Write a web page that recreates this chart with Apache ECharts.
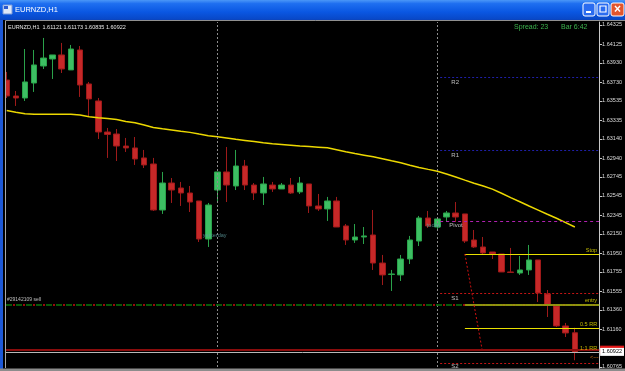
<!DOCTYPE html>
<html><head><meta charset="utf-8">
<script src="https://cdn.jsdelivr.net/npm/echarts@6/dist/echarts.min.js"></script>
<style>html,body{margin:0;padding:0;background:#000;overflow:hidden}#c{width:625px;height:371px}</style>
</head><body><div id="c"></div>
<script>
// ---------- data ----------
const symbolName = 'EURNZD,H1';
const headerValues = ['1.61121', '1.61173', '1.60835', '1.60922'];
const opens = [1.63752,1.63586,1.63565,1.63721,1.63898,1.63971,1.64013,1.63857,1.64065,1.63711,
1.63534,1.63211,1.63190,1.63065,1.63045,1.62941,1.62878,1.62399,1.62680,1.62628,
1.62576,1.62493,1.62097,1.62607,1.62795,1.62649,1.62857,1.62659,1.62576,1.62659,
1.62618,1.62659,1.62587,1.62670,1.62441,1.62410,1.62493,1.62233,1.62087,1.62118,
1.62139,1.61847,1.61728,1.61723,1.61889,1.62076,1.62316,1.62222,1.62326,1.62368,
1.62358,1.62087,1.62014,1.61962,1.61941,1.61754,1.61743,1.61775,1.61879,1.61525,
1.61400,1.61192,1.61121];
const closes = [1.63586,1.63565,1.63732,1.63909,1.63981,1.64013,1.63867,1.64075,1.63700,1.63555,
1.63211,1.63185,1.63065,1.63045,1.62930,1.62868,1.62399,1.62680,1.62607,1.62576,
1.62482,1.62097,1.62451,1.62795,1.62659,1.62857,1.62659,1.62576,1.62670,1.62618,
1.62659,1.62576,1.62680,1.62441,1.62410,1.62493,1.62222,1.62087,1.62118,1.62129,
1.61847,1.61723,1.61733,1.61889,1.62087,1.62316,1.62233,1.62306,1.62368,1.62326,
1.62076,1.62014,1.61952,1.61941,1.61754,1.61749,1.61775,1.61879,1.61535,1.61410,
1.61192,1.61119,1.60922];
const lows = [1.63565,1.63482,1.63534,1.63628,1.63867,1.63763,1.63825,1.63857,1.63576,1.63378,
1.63138,1.62941,1.62909,1.63003,1.62868,1.62836,1.62389,1.62358,1.62472,1.62441,
1.62378,1.62066,1.62014,1.62472,1.62482,1.62607,1.62607,1.62503,1.62451,1.62587,
1.62618,1.62566,1.62566,1.62368,1.62389,1.62285,1.62222,1.62035,1.62056,1.62045,
1.61775,1.61618,1.61556,1.61660,1.61837,1.62024,1.62212,1.62191,1.62274,1.62274,
1.62056,1.62004,1.61931,1.61889,1.61754,1.61743,1.61723,1.61723,1.61441,1.61285,
1.61181,1.61077,1.60835];
const highs = [1.63836,1.63638,1.64075,1.64065,1.64190,1.64013,1.64138,1.64117,1.64106,1.63732,
1.63565,1.63253,1.63242,1.63149,1.63159,1.63024,1.62941,1.62795,1.62732,1.62691,
1.62649,1.62493,1.62472,1.62795,1.63055,1.63024,1.62920,1.62680,1.62743,1.62691,
1.62680,1.62732,1.62743,1.62670,1.62566,1.62535,1.62535,1.62253,1.62253,1.62222,
1.62399,1.61931,1.61775,1.61931,1.62129,1.62337,1.62389,1.62306,1.62389,1.62482,
1.62358,1.62191,1.62118,1.61962,1.61941,1.62004,1.61920,1.62035,1.61879,1.61566,
1.61400,1.61223,1.61173];
const maValues = [1.63434,1.63416,1.63402,1.63395,1.63395,1.63395,1.63395,1.63395,1.63388,1.63370,
1.63360,1.63351,1.63341,1.63320,1.63307,1.63284,1.63258,1.63244,1.63232,1.63219,
1.63207,1.63189,1.63173,1.63161,1.63149,1.63135,1.63123,1.63111,1.63098,1.63088,
1.63081,1.63073,1.63065,1.63059,1.63053,1.63046,1.63026,1.63005,1.62986,1.62970,
1.62954,1.62933,1.62911,1.62890,1.62865,1.62842,1.62822,1.62803,1.62774,1.62743,
1.62710,1.62678,1.62648,1.62616,1.62573,1.62528,1.62485,1.62441,1.62398,1.62355,
1.62313,1.62268,1.62222];
const separatorBars = [23, 47];
const pivotNames = ['R2', 'R1', 'S1', 'S2'];
const pivotValues = [1.63781, 1.63021, 1.61532, 1.60803];
const pivotLevel = 1.62285;
const tradeNames = ['Stop', 'entry', '0.5 RR', '1:1 RR'];
const tradeValues = [1.61941, 1.61417, 1.61171, 1.60918];
const orderLabel = '#29142109 sell';
const askPrice = 1.60945;
const bidPrice = 1.60922;
const tickValues = [1.64325,1.64125,1.63930,1.63730,1.63535,1.63335,1.63140,1.62940,1.62745,
1.62545,1.62345,1.62150,1.61950,1.61755,1.61555,1.61360,1.61160,1.60765];
const spreadText = 'Spread: 23';
const barText = 'Bar 6:42';

// ---------- layout ----------
const FF = 'Liberation Sans, Arial, sans-serif';
const X_MIN = -0.076, X_MAX = 64.648;
const Y_MIN = 1.60723, Y_MAX = 1.64356;
const PIVOT_START = 47.3, TRADE_START = 50, RIGHT = X_MAX;

const candleData = opens.map((o, i) => [i, o, closes[i], lows[i], highs[i]]);
const maData = maValues.map((v, i) => [i, v]);

function seg(x1, x2, y, style) {
  return [{coord: [x1, y], lineStyle: style}, {coord: [x2, y]}];
}
const yellow = {color: '#e8e000', width: 1, type: 'solid'};
const mlData = [];
pivotValues.forEach((v, i) => {
  const st = i < 2 ? {color: '#1f1fa8', width: 1, type: [2, 2]} : {color: '#c41414', width: 1, type: [2, 2]};
  mlData.push(seg(PIVOT_START, RIGHT, v, st));
});
mlData.push(seg(PIVOT_START, RIGHT, pivotLevel, {color: '#b020b0', width: 1, type: [3, 3]}));
// order line (dash-dot green/red), full width
mlData.push({yAxis: tradeValues[1], lineStyle: {color: '#0d7a0d', width: 1.5, type: [6, 4]}});
mlData.push({yAxis: tradeValues[1], lineStyle: {color: '#cc1010', width: 1.5, type: [2, 8], dashOffset: 3}});
tradeValues.forEach((v, i) => {
  const st = i === 1 ? {color: '#9a9a10', width: 2, type: 'solid', opacity: 0.9} : yellow;
  mlData.push(seg(TRADE_START, RIGHT, v, st));
});
mlData.push([{coord: [TRADE_START, tradeValues[0]], lineStyle: {color: '#d01010', width: 1, type: [2, 2]}},
             {coord: [51.93, tradeValues[3]]}]);
mlData.push({yAxis: askPrice, lineStyle: {color: '#8a0c0c', width: 2, type: 'solid'},
  label: {show: true, position: 'end', distance: 1, formatter: p => Number(p.value).toFixed(5),
    color: '#e01818', backgroundColor: '#e01818', padding: [1, 2], fontSize: 5.5, fontFamily: FF}});
mlData.push({yAxis: bidPrice, lineStyle: {color: '#b8b8b8', width: 1, type: 'solid'},
  label: {show: true, position: 'end', distance: 1, formatter: p => Number(p.value).toFixed(5),
    color: '#000', backgroundColor: '#ffffff', padding: [1, 2], fontSize: 5.5, fontFamily: FF}});

// text annotations anchored to data coords
function ann(text, x, y, dy, align, color, size) {
  return {value: [x, y], label: {show: true, formatter: text, align: align, verticalAlign: 'middle',
    offset: [0, dy], color: color, fontSize: size || 6, fontFamily: FF}};
}
const annData = [];
pivotNames.forEach((n, i) => annData.push(ann(n, 48.52, pivotValues[i], i === 3 ? 3.5 : 4.7, 'left', '#e6e6e6', 6)));
annData.push(ann('today', 45.8, pivotLevel, 4, 'left', '#5f9ea0', 6));
annData.push(ann('Pivot', 48.3, pivotLevel, 4, 'left', '#e6e6e6', 6));
annData.push(ann('yesterday', 21.39, 1.62137, 0, 'left', '#5f9ea0', 5.5));
annData.push(ann(orderLabel, 0.03, tradeValues[1], -4.3, 'left', '#e6e6e6', 5));
tradeNames.forEach((n, i) => annData.push(ann(n, 64.43, tradeValues[i], -3.5, 'right', '#e8e000', 5.5)));
annData.push(ann('<---', 64.6, tradeValues[3], 5, 'right', '#ff8c1a', 5.5));

const titleGrad = new echarts.graphic.LinearGradient(0, 0, 0, 1, [
  {offset: 0, color: '#4b97f7'}, {offset: 0.18, color: '#1f6ff0'},
  {offset: 0.6, color: '#0a57e2'}, {offset: 1, color: '#0846c4'}]);

const option = {
  backgroundColor: '#000',
  animation: false,
  grid: {left: 6, right: 25, top: 22, bottom: 0},
  xAxis: {type: 'value', min: X_MIN, max: X_MAX, show: false, splitLine: {show: false}},
  yAxis: {type: 'value', position: 'right', min: Y_MIN, max: Y_MAX, scale: true,
    splitLine: {show: false},
    axisLine: {show: true, onZero: false, lineStyle: {color: '#c8c8c8', width: 1}},
    axisTick: {show: true, customValues: tickValues, length: 3, lineStyle: {color: '#c8c8c8'}},
    axisLabel: {customValues: tickValues, formatter: v => v.toFixed(5), color: '#dcdcdc',
      fontSize: 5.5, margin: 3, fontFamily: FF}},
  series: [
    {type: 'candlestick', data: candleData, encode: {x: 0, y: [1, 2, 3, 4]},
      barWidth: 6, clip: true,
      itemStyle: {color: '#3dbf63', color0: '#c62828', borderColor: '#2aa24a', borderColor0: '#9e1a1a', borderWidth: 1},
      markLine: {silent: true, symbol: ['none', 'none'], animation: false, label: {show: false},
        lineStyle: {color: '#8c8c8c', type: [2, 2], width: 1},
        data: separatorBars.map(b => ({xAxis: b}))}},
    {type: 'line', data: maData, showSymbol: false, symbol: 'none', z: 3,
      lineStyle: {color: '#ecd800', width: 1.5},
      markLine: {silent: true, symbol: ['none', 'none'], animation: false, precision: 5, label: {show: false},
        data: mlData}},
    {type: 'scatter', data: annData, symbolSize: 1, z: 5, silent: true,
      itemStyle: {color: 'rgba(0,0,0,0)'}}
  ],
  graphic: [
    {type: 'rect', z: 100, shape: {x: 0, y: 0, width: 625, height: 20}, style: {fill: titleGrad}},
    {type: 'rect', z: 101, shape: {x: 3, y: 5, width: 9, height: 9}, style: {fill: '#dfe8f8', stroke: '#7a9ad8', lineWidth: 1}},
    {type: 'rect', z: 102, shape: {x: 4, y: 6, width: 4, height: 3}, style: {fill: '#2a5ad0'}},
    {type: 'text', z: 101, style: {x: 15, y: 10, text: symbolName, fill: '#ffffff', fontSize: 7.5, fontFamily: FF, verticalAlign: 'middle'}},
    {type: 'rect', z: 101, shape: {x: 583, y: 3, width: 12, height: 13, r: 2}, style: {fill: '#2a6cf0', stroke: '#ffffff', lineWidth: 1}},
    {type: 'rect', z: 102, shape: {x: 586, y: 11, width: 5, height: 2}, style: {fill: '#ffffff'}},
    {type: 'rect', z: 101, shape: {x: 597, y: 3, width: 12, height: 13, r: 2}, style: {fill: '#2a6cf0', stroke: '#ffffff', lineWidth: 1}},
    {type: 'rect', z: 102, shape: {x: 600, y: 6, width: 6, height: 6}, style: {fill: 'none', stroke: '#ffffff', lineWidth: 1.2}},
    {type: 'rect', z: 101, shape: {x: 611, y: 3, width: 13, height: 13, r: 2}, style: {fill: '#e2552e', stroke: '#ffffff', lineWidth: 1}},
    {type: 'text', z: 102, style: {x: 617.5, y: 10, text: '×', fill: '#ffffff', fontSize: 12, fontWeight: 'bold', align: 'center', verticalAlign: 'middle', fontFamily: FF}},
    {type: 'rect', z: 100, shape: {x: 0, y: 19, width: 625, height: 1.5}, style: {fill: '#0a45c0'}},
    {type: 'rect', z: 100, shape: {x: 0, y: 20, width: 6, height: 351}, style: {fill: '#000'}},
    {type: 'rect', z: 101, shape: {x: 0, y: 20, width: 3, height: 351}, style: {fill: '#1d58d6'}},
    {type: 'line', z: 101, shape: {x1: 5.5, y1: 20.5, x2: 5.5, y2: 368}, style: {stroke: '#a8a8a8', lineWidth: 1}},
    {type: 'line', z: 101, shape: {x1: 5.5, y1: 20.5, x2: 625, y2: 20.5}, style: {stroke: '#909090', lineWidth: 1}},
    {type: 'rect', z: 101, shape: {x: 0, y: 368.5, width: 625, height: 3}, style: {fill: '#8c8c8c'}},
    {type: 'text', z: 101, style: {x: 8, y: 27, text: symbolName + '  ' + headerValues.join(' '), fill: '#e8e8e8', fontSize: 5.5, fontFamily: FF, verticalAlign: 'middle'}},
    {type: 'text', z: 101, style: {x: 514, y: 27, text: spreadText, fill: '#3cb44e', fontSize: 7, fontFamily: FF, verticalAlign: 'middle'}},
    {type: 'text', z: 101, style: {x: 561, y: 27, text: barText, fill: '#3cb44e', fontSize: 7, fontFamily: FF, verticalAlign: 'middle'}}
  ]
};
const chart = echarts.init(document.getElementById('c'), null, {renderer: 'canvas'});
chart.setOption(option);
</script>
</body></html>
